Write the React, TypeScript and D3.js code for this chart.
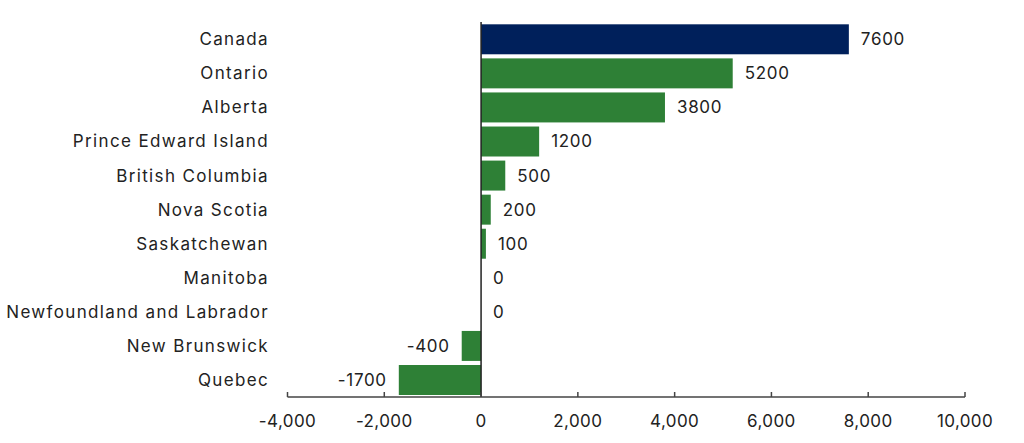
import React from "react";
import * as d3 from "d3";

const categories = [
  "Canada",
  "Ontario",
  "Alberta",
  "Prince Edward Island",
  "British Columbia",
  "Nova Scotia",
  "Saskatchewan",
  "Manitoba",
  "Newfoundland and Labrador",
  "New Brunswick",
  "Quebec",
];
const values = [7600, 5200, 3800, 1200, 500, 200, 100, 0, 0, -400, -1700];
const xTicks = [-4000, -2000, 0, 2000, 4000, 6000, 8000, 10000];

const W = 1024;
const H = 443;
const FONT = "Inter, 'Open Sans', sans-serif";
const NAVY = "#00205B";
const GREEN = "#2E8036";

export default function App() {
  const x = d3.scaleLinear().domain([-4000, 10000]).range([287.5, 965]);
  const y = d3
    .scaleBand<string>()
    .domain(categories)
    .range([20.9, 398.4])
    .paddingInner(0.12)
    .paddingOuter(0.1);
  const axisY = 397;
  const fmt = d3.format(",");
  return (
    <svg
      width={W}
      height={H}
      style={{ position: "absolute", left: 0, top: 0, background: "#fff" }}
    >
      {categories.map((c, i) => {
        const v = values[i];
        const x0 = x(Math.min(0, v));
        const x1 = x(Math.max(0, v));
        const yy = y(c)!;
        const bw = y.bandwidth();
        return (
          <g key={c}>
            <rect
              x={x0}
              y={yy}
              width={x1 - x0}
              height={bw}
              fill={i === 0 ? NAVY : GREEN}
            />
            <text
              x={269}
              y={yy + bw / 2}
              dy="0.35em"
              textAnchor="end"
              fontFamily={FONT}
              fontSize={17}
              letterSpacing={1.35}
              fill="#222"
            >
              {c}
            </text>
            <text
              x={v < 0 ? x0 - 12 : x1 + 12}
              y={yy + bw / 2}
              dy="0.35em"
              textAnchor={v < 0 ? "end" : "start"}
              fontFamily={FONT}
              fontSize={17}
              letterSpacing={0.7}
              fill="#222"
            >
              {v}
            </text>
          </g>
        );
      })}
      <line
        x1={x(0)}
        x2={x(0)}
        y1={22}
        y2={axisY}
        stroke="#222"
        strokeWidth={1.5}
      />
      <line
        x1={x(-4000)}
        x2={x(10000)}
        y1={axisY}
        y2={axisY}
        stroke="#444"
        strokeWidth={1.5}
      />
      {xTicks.map((t) => (
        <g key={t}>
          <line
            x1={x(t)}
            x2={x(t)}
            y1={axisY}
            y2={axisY - 5}
            stroke="#444"
            strokeWidth={1.5}
          />
          <text
            x={x(t)}
            y={421}
            dy="0.35em"
            textAnchor="middle"
            fontFamily={FONT}
            fontSize={17}
            letterSpacing={0.4}
            fill="#222"
          >
            {fmt(t).replace("−", "-")}
          </text>
        </g>
      ))}
    </svg>
  );
}
